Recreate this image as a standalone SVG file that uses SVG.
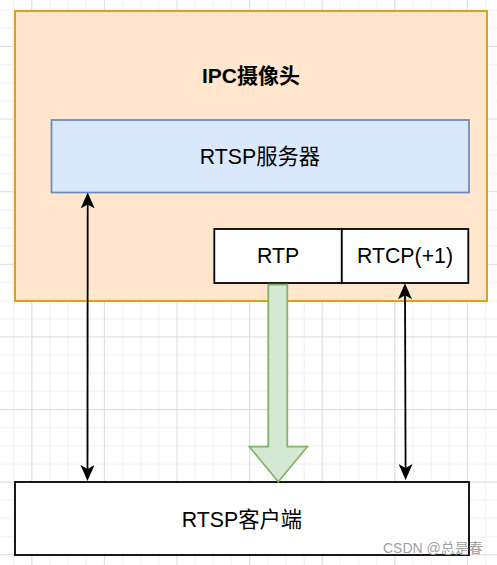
<svg xmlns="http://www.w3.org/2000/svg" width="497" height="565" viewBox="0 0 497 565">
  <defs>
    <pattern id="grid" patternUnits="userSpaceOnUse" x="31.3" y="46" width="72.6" height="72.6">
      <rect x="0" y="0" width="72.6" height="72.6" fill="#ffffff"/>
      <g fill="#f0f0f0">
        <rect x="18.15" y="0" width="1" height="72.6"/>
        <rect x="36.3" y="0" width="1" height="72.6"/>
        <rect x="54.45" y="0" width="1" height="72.6"/>
        <rect x="0" y="18.15" width="72.6" height="1"/>
        <rect x="0" y="36.3" width="72.6" height="1"/>
        <rect x="0" y="54.45" width="72.6" height="1"/>
      </g>
      <g fill="#dadada">
        <rect x="0" y="0" width="1" height="72.6"/>
        <rect x="0" y="0" width="72.6" height="1"/>
      </g>
    </pattern>
    <marker id="arr" markerUnits="userSpaceOnUse" markerWidth="16" markerHeight="14" viewBox="0 0 16 14" refX="12" refY="7" orient="auto-start-reverse">
      <path d="M0,0 L16,7 L0,14 L4,7 z" fill="#000000"/>
    </marker>
  </defs>
  <style>
    text { font-family: "Liberation Sans", Arial, "Noto Sans CJK SC", sans-serif; fill: #000000; }
    .lbl { font-size: 21.3px; text-anchor: middle; }
    .ttl { font-size: 21px; font-weight: bold; text-anchor: middle; }
    .box { stroke-width: 1.8; }
    .conn { stroke: #000000; stroke-width: 1.8; fill: none; }
    .wm { font-size: 14px; fill: #a0a0a0; }
  </style>

  <rect x="0" y="0" width="497" height="565" fill="url(#grid)"/>

  <g id="ipc-camera">
    <rect class="box" x="15" y="11" width="472" height="290" fill="#ffe6cc" stroke="#d79b00"/>
    <text class="ttl" x="251" y="83">IPC摄像头</text>
  </g>

  <g id="rtsp-server">
    <rect class="box" x="51.5" y="120" width="417.5" height="72.5" fill="#dae8fc" stroke="#6c8ebf"/>
    <text class="lbl" x="260" y="164">RTSP服务器</text>
  </g>

  <g id="rtp">
    <rect class="box" x="214.3" y="229" width="127.5" height="54" fill="#ffffff" stroke="#000000"/>
    <text class="lbl" x="278" y="263.3">RTP</text>
  </g>

  <g id="rtcp">
    <rect class="box" x="341.8" y="229" width="126.5" height="54" fill="#ffffff" stroke="#000000"/>
    <text class="lbl" x="405" y="263.3">RTCP(+1)</text>
  </g>

  <g id="rtsp-client">
    <rect class="box" x="15" y="482" width="454" height="73" fill="#ffffff" stroke="#000000"/>
    <text class="lbl" x="242" y="527">RTSP客户端</text>
  </g>

  <g id="connectors">
    <line class="conn" x1="87.7" y1="196.5" x2="87.5" y2="477" marker-start="url(#arr)" marker-end="url(#arr)"/>
    <line class="conn" x1="405" y1="287.3" x2="405.6" y2="476" marker-start="url(#arr)" marker-end="url(#arr)"/>
    <path d="M268.3,284.7 L287.3,284.7 L287.3,446.7 L307.3,446.7 L278.3,481.7 L249.3,446.7 L268.3,446.7 Z" fill="#d5e8d4" stroke="#82b366" stroke-width="1.8" stroke-linejoin="miter"/>
  </g>

  <text class="wm" x="383" y="553">CSDN @总是春</text>
</svg>
